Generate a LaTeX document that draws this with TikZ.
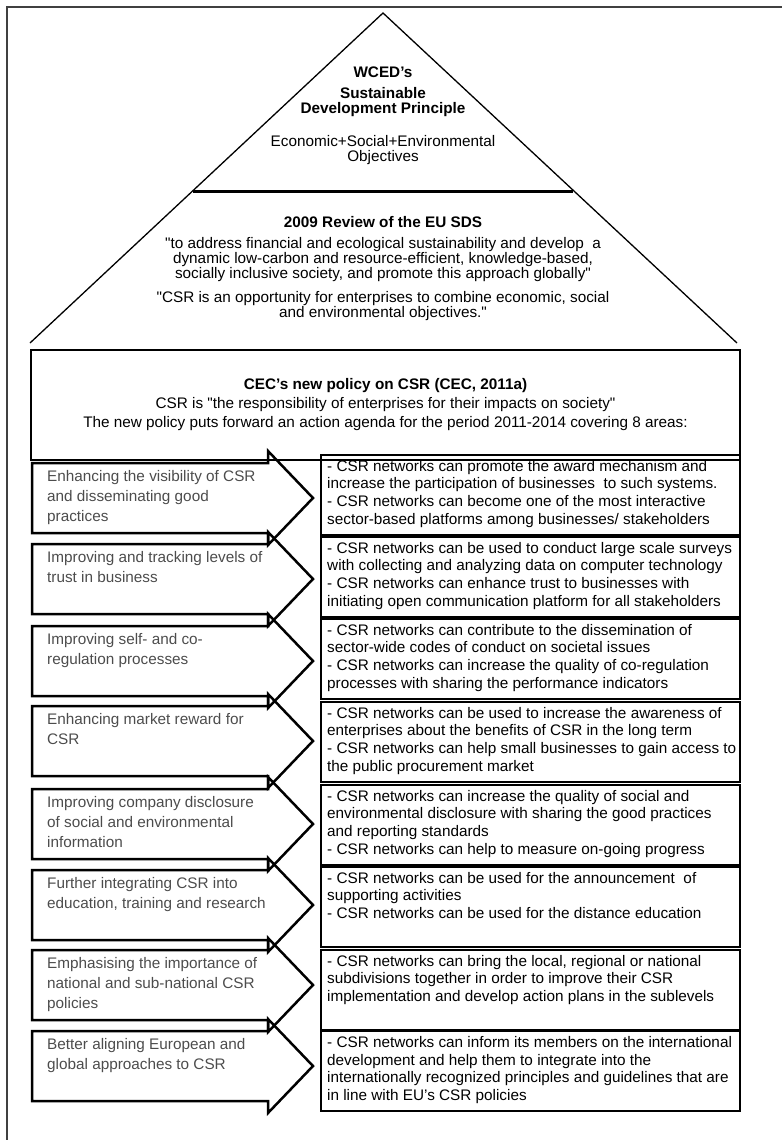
\documentclass[tikz,border=0pt]{standalone}
\usepackage{fontspec}
\setmainfont{Liberation Sans}[Ligatures=TeXOff]
\begin{document}
\begin{tikzpicture}[x=1pt,y=-1pt,
    every node/.style={inner sep=0pt},
    tritext/.style={align=center, font=\fontsize{15.3}{15}\selectfont},
    areatext/.style={align=left, anchor=north west, text=black!70, font=\fontsize{15.3}{20}\selectfont},
    roletext/.style={align=left, anchor=north west, font=\fontsize{15.3}{17.7}\selectfont},
    heavy/.style={line width=2.5pt}]
        \useasboundingbox (0,0) rectangle (782,1140);
        \draw[line width=1.5pt, black!75] (7,1140) -- (7,7) -- (782,7);
        
        % pyramid
        \draw[line width=1.3pt] (30,343) -- (383,13) -- (737,343);
        \draw[line width=3pt] (193,191) -- (573,191);
        
        \node[tritext, font=\fontsize{15.3}{15}\bfseries] (wced) at (383,72) {WCED’s};
        \node[tritext, font=\fontsize{15.3}{15}\bfseries] (sdp) at (383,102) {Sustainable\\Development Principle};
        \node[tritext] (obj) at (383,150) {Economic+Social+Environmental\\Objectives};
        \node[tritext, font=\fontsize{15.3}{15}\bfseries] (sds) at (383,222) {2009 Review of the EU SDS};
        \node[tritext] (quote) at (383,260) {"to address financial and ecological sustainability and develop~ a\\dynamic low-carbon and resource-efficient, knowledge-based,\\socially inclusive society, and promote this approach globally"};
        \node[tritext] (opp) at (383,306) {"CSR is an opportunity for enterprises to combine economic, social\\and environmental objectives."};
        
        \node[heavy, draw, minimum width=709, minimum height=110, align=center,
            font=\fontsize{15.3}{19}\selectfont] (cec) at (385.5,405)
            {\textbf{CEC’s new policy on CSR (CEC, 2011a)}\\CSR is "the responsibility of enterprises for their impacts on society"\\The new policy puts forward an action agenda for the period 2011-2014 covering 8 areas:};
        
        % action areas
        \foreach \t in {463,544,626,706,789,870,950,1031} {
            \draw[heavy] (32,\t) -- (268,\t) -- (268,\t-12) -- (313,\t+35)
                -- (268,\t+82) -- (268,\t+70) -- (32,\t+70) -- cycle;
        }
        \foreach \t in {455,537,619,702,785,867,950,1031} {
            \draw[heavy] (321,\t) rectangle (740,\t+80);
        }
        
        \node[areatext] (a1) at (47,470) {Enhancing the visibility of CSR\\and disseminating good\\practices};
        \node[areatext] (a2) at (47,551) {Improving and tracking levels of\\trust in business};
        \node[areatext] (a3) at (47,633) {Improving self- and co-\\regulation processes};
        \node[areatext] (a4) at (47,713) {Enhancing market reward for\\CSR};
        \node[areatext] (a5) at (47,796) {Improving company disclosure\\of social and environmental\\information};
        \node[areatext] (a6) at (47,877) {Further integrating CSR into\\education, training and research};
        \node[areatext] (a7) at (47,957) {Emphasising the importance of\\national and sub-national CSR\\policies};
        \node[areatext] (a8) at (47,1038) {Better aligning European and\\global approaches to CSR};
        
        \node[roletext] (r1) at (327,460) {- CSR networks can promote the award mechanism and\\increase the participation of businesses~ to such systems.\\- CSR networks can become one of the most interactive\\sector-based platforms among businesses/ stakeholders};
        \node[roletext] (r2) at (327,542) {- CSR networks can be used to conduct large scale surveys\\with collecting and analyzing data on computer technology\\- CSR networks can enhance trust to businesses with\\initiating open communication platform for all stakeholders};
        \node[roletext] (r3) at (327,624) {- CSR networks can contribute to the dissemination of\\sector-wide codes of conduct on societal issues\\- CSR networks can increase the quality of co-regulation\\processes with sharing the performance indicators};
        \node[roletext] (r4) at (327,707) {- CSR networks can be used to increase the awareness of\\enterprises about the benefits of CSR in the long term\\- CSR networks can help small businesses to gain access to\\the public procurement market};
        \node[roletext] (r5) at (327,790) {- CSR networks can increase the quality of social and\\environmental disclosure with sharing the good practices\\and reporting standards\\- CSR networks can help to measure on-going progress};
        \node[roletext] (r6) at (327,872) {- CSR networks can be used for the announcement~ of\\supporting activities\\- CSR networks can be used for the distance education};
        \node[roletext] (r7) at (327,955) {- CSR networks can bring the local, regional or national\\subdivisions together in order to improve their CSR\\implementation and develop action plans in the sublevels};
        \node[roletext] (r8) at (327,1036) {- CSR networks can inform its members on the international\\development and help them to integrate into the\\internationally recognized principles and guidelines that are\\in line with EU’s CSR policies};
    \end{tikzpicture}
\end{document}
